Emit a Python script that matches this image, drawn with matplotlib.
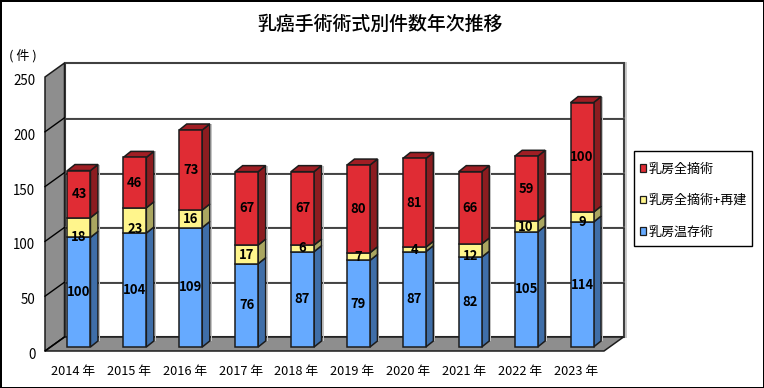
import matplotlib
matplotlib.use("Agg")
import matplotlib.pyplot as plt
from matplotlib.patches import Polygon, Patch, Rectangle
from matplotlib.transforms import ScaledTranslation

plt.rcParams['font.family'] = ['Noto Sans CJK JP', 'DejaVu Sans']

years = ['2014 年', '2015 年', '2016 年', '2017 年', '2018 年',
         '2019 年', '2020 年', '2021 年', '2022 年', '2023 年']
conserving = [100, 104, 109, 76, 87, 79, 87, 82, 105, 114]
reconstruct = [18, 23, 16, 17, 6, 7, 4, 12, 10, 9]
mastectomy = [43, 46, 73, 67, 67, 80, 81, 66, 59, 100]
series_names = ['乳房温存術', '乳房全摘術+再建', '乳房全摘術']
yticks = [0, 50, 100, 150, 200, 250]
# pixel nudge of the yellow labels, as placed by the original chart
yellow_label_nudge = [9, 9, 0, 1, 0, 0, 1, 5, 1, 5]

W, H = 764, 388
DPI = 100
fig = plt.figure(figsize=(W / DPI, H / DPI), dpi=DPI, facecolor='white',
                 edgecolor='black', linewidth=1.8)
ax = fig.add_axes([45 / W, 1 - 351 / H, 559 / W, 274 / H])
ax.set_xlim(0, 10)
ax.set_ylim(0, 250)
ax.patch.set_visible(False)
for s in ax.spines.values():
    s.set_visible(False)

PX = 10 / 559          # data x per pixel
PY = 250 / 274         # data y per pixel
WX, WY = 19.5 * PX, 14 * PY     # wall depth
BX, BY = 7.5 * PX, 6 * PY       # bar depth
GX, GY = (WX - BX) / 2, (WY - BY) / 2
BW = 23 * PX

EDGE = '#1c1c1c'
GREY = '#8e8e8e'


def poly(pts, fc, z, ec=EDGE, lw=1.1):
    ax.add_patch(Polygon(pts, closed=True, facecolor=fc, edgecolor=ec,
                         linewidth=lw, zorder=z, clip_on=False, joinstyle='miter'))


# walls
poly([(WX, WY), (10 + WX, WY), (10 + WX, 250 + WY), (WX, 250 + WY)], 'white', 1, ec='#404040', lw=1.5)
ax.plot([10 + WX + 2 * PX] * 2, [WY, 250 + WY], color='#c8c8c8', lw=1.4, zorder=0.5, clip_on=False)
poly([(0, 0), (WX, WY), (WX, 250 + WY), (0, 250)], GREY, 2)
poly([(0, 0), (10, 0), (10 + WX, WY), (WX, WY)], GREY, 2)

# gridlines
for v in yticks[1:-1]:
    ax.plot([WX, 10 + WX], [v + WY, v + WY], color='#c4c4c4', lw=1.0, zorder=2.4, clip_on=False)
    ax.plot([WX, 10 + WX], [v + WY - 0.9, v + WY - 0.9], color='#2a2a2a', lw=1.2, zorder=2.5, clip_on=False)
for v in yticks[:-1]:
    ax.plot([0, WX], [v, v + WY], color='black', lw=1.0, zorder=2.6, clip_on=False)

colors = [('#66aaff', '#3f6ea8'), ('#fff58c', '#aaa660'), ('#e02c34', '#8c1c20')]
top_color = '#a01e24'

for i in range(len(years)):
    x0 = i + 0.5 - BW / 2 + GX
    x1 = x0 + BW
    base = GY
    z = 5 + i
    total = base + conserving[i] + reconstruct[i] + mastectomy[i]
    # soft shadow to the right of the bar
    sx = 2 * PX
    poly([(x1 + BX + sx * 0.5, base + BY), (x1 + BX + sx, base + BY),
          (x1 + BX + sx, total + BY), (x1 + BX + sx * 0.5, total + BY)], '#c4c4c4', z - 0.5, ec='none', lw=0)
    bottom = base
    for j, vals in enumerate((conserving, reconstruct, mastectomy)):
        v = vals[i]
        front, side = colors[j]
        poly([(x1, bottom), (x1 + BX, bottom + BY), (x1 + BX, bottom + v + BY), (x1, bottom + v)], side, z)
        poly([(x0, bottom), (x1, bottom), (x1, bottom + v), (x0, bottom + v)], front, z + 0.1)
        if j == 2:
            poly([(x0, bottom + v), (x1, bottom + v), (x1 + BX, bottom + v + BY), (x0 + BX, bottom + v + BY)],
                 top_color, z)
        ly = bottom + v / 2
        if j == 1:
            ly -= yellow_label_nudge[i] * PY
        ax.text((x0 + x1) / 2, ly, str(v), ha='center', va='center', fontsize=9.4,
                fontweight='bold', color='black', zorder=30)
        bottom += v

ax.set_xticks([i + 0.5 for i in range(len(years))])
ax.set_xticklabels(years, fontsize=9.2, color='black')
ax.set_yticks(yticks)
ax.set_yticklabels([str(v) for v in yticks], fontsize=9.6, color='black')
ax.tick_params(axis='x', length=0, pad=10)
ax.tick_params(axis='y', length=0, pad=7)
down = ScaledTranslation(0, -2.5 / DPI, fig.dpi_scale_trans)
for lab in ax.get_yticklabels():
    lab.set_transform(lab.get_transform() + down)

fig.text(380 / W, 1 - 24 / H, '乳癌手術術式別件数年次推移', ha='center', va='center',
         fontsize=13.6, fontweight='medium', color='black')
fig.text(23 / W, 1 - 55.5 / H, '( 件 )', ha='center', va='center', fontsize=9.4, color='black')

fig.add_artist(Rectangle((633.5 / W, 1 - 245.5 / H), 118.5 / W, 95 / H, transform=fig.transFigure,
                         facecolor='white', edgecolor='black', linewidth=1.0, zorder=3))
handles = [Patch(facecolor=colors[k][0], edgecolor=EDGE, linewidth=0.9) for k in (2, 1, 0)]
labels = [series_names[k] for k in (2, 1, 0)]
leg = fig.legend(handles, labels, loc='upper left',
                 bbox_to_anchor=(633.5 / W, 1 - 156 / H), bbox_transform=fig.transFigure,
                 fontsize=9.36, frameon=False, borderpad=0.5, labelspacing=1.42,
                 handlelength=0.45, handleheight=0.5, handletextpad=0.2, borderaxespad=0)
leg.set_zorder(4)

fig.savefig('out.png', dpi=DPI, facecolor='white', edgecolor='black')
